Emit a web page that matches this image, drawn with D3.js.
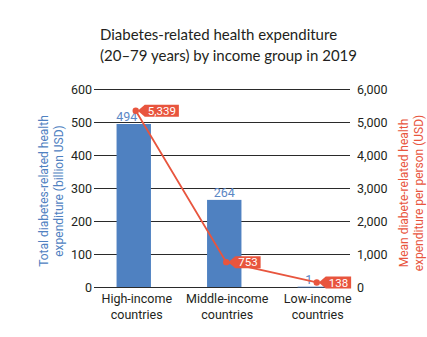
<!DOCTYPE html>
<html><head><meta charset="utf-8">
<script src="https://cdnjs.cloudflare.com/ajax/libs/d3/7.8.5/d3.min.js"></script>
<style>
body{margin:0;background:#fff;}
svg{display:block;}
</style></head>
<body><svg id="chart" width="427" height="337"></svg>
<script>
const categories = ["High-income|countries", "Middle-income|countries", "Low-income|countries"];
const totalExpenditure = [494, 264, 1];          // billion USD (bars, left axis)
const meanPerPerson = [5339, 753, 138];          // USD (line, right axis)
const leftTicks = [0, 100, 200, 300, 400, 500, 600];
const rightTicks = [0, 1000, 2000, 3000, 4000, 5000, 6000];
const titleLines = ["Diabetes-related health expenditure", "(20\u201379 years) by income group in 2019"];
const leftTitle = ["Total diabetes-related health", "expenditure (billion USD)"];
const rightTitle = ["Mean diabete-related health", "expenditure per person (USD)"];

const BLUE = "#4f81c1", BLUE_TXT = "#5b87c5", RED = "#e8553e", INK = "#231f20";
const FONT = "Roboto, 'DejaVu Sans', sans-serif";
const svg = d3.select("#chart");

const x = d3.scaleBand().domain(categories).range([88.5, 360]).paddingInner(0.62).paddingOuter(0.31);
const yL = d3.scaleLinear().domain([0, 600]).range([287, 89]);
const yR = d3.scaleLinear().domain([0, 6000]).range([287, 89]);

// title
svg.append("g").selectAll("text").data(titleLines).join("text")
  .attr("x", 100).attr("y", (d, i) => 40 + i * 21)
  .attr("font-family", "Lato, 'Open Sans', sans-serif").attr("font-size", 15)
  .attr("fill", INK).text(d => d);

// grid lines
svg.append("g").selectAll("line").data(leftTicks).join("line")
  .attr("x1", 94).attr("x2", 350)
  .attr("y1", d => yL(d) + 0.5).attr("y2", d => yL(d) + 0.5)
  .attr("stroke", "#2a2a2a").attr("stroke-width", 1);

// left axis
const axL = svg.append("g").attr("transform", "translate(93,0)")
  .call(d3.axisLeft(yL).tickValues(leftTicks).tickSize(0).tickPadding(1).tickFormat(d3.format("d")));
axL.select(".domain").remove();
axL.selectAll("text").attr("font-family", FONT).attr("font-size", 12.5).attr("fill", INK);

// right axis
const axR = svg.append("g").attr("transform", "translate(356,0)")
  .call(d3.axisRight(yR).tickValues(rightTicks).tickSize(0).tickPadding(1).tickFormat(d3.format(",")));
axR.select(".domain").remove();
axR.selectAll("text").attr("font-family", FONT).attr("font-size", 12.5).attr("fill", INK);

// bars
svg.append("g").selectAll("rect").data(totalExpenditure).join("rect")
  .attr("x", (d, i) => x(categories[i]))
  .attr("width", x.bandwidth())
  .attr("y", d => yL(d))
  .attr("height", d => Math.max(0.8, yL(0) - yL(d)))
  .attr("fill", BLUE);

// bar value labels
const labelDx = [-7, 0, -6];
svg.append("g").selectAll("text").data(totalExpenditure).join("text")
  .attr("x", (d, i) => x(categories[i]) + x.bandwidth() / 2 + labelDx[i])
  .attr("y", d => yL(d) - 3)
  .attr("text-anchor", "middle")
  .attr("font-family", FONT).attr("font-size", 12.5).attr("fill", BLUE_TXT)
  .text(d => d);

// x category labels
const xl = svg.append("g").selectAll("text").data(categories).join("text")
  .attr("text-anchor", "middle")
  .attr("font-family", FONT).attr("font-size", 12.5).attr("fill", INK);
xl.each(function(d, i) {
  const t = d3.select(this);
  d.split("|").forEach((s, j) => {
    t.append("tspan").attr("x", x(d) + x.bandwidth() / 2 + 3).attr("y", 303 + j * 16).text(s);
  });
});

// line
const pts = meanPerPerson.map((v, i) => [x(categories[i]) + x.bandwidth() / 2 + 2, yR(v)]);
svg.append("path").attr("d", d3.line()(pts))
  .attr("fill", "none").attr("stroke", RED).attr("stroke-width", 1.8);
svg.append("g").selectAll("circle").data(pts).join("circle")
  .attr("cx", d => d[0]).attr("cy", d => d[1]).attr("r", 3.2).attr("fill", RED);

// callouts
const fmt = d3.format(",");
const co = svg.append("g");
pts.forEach((p, i) => {
  const txt = fmt(meanPerPerson[i]);
  const g = co.append("g");
  const t = g.append("text").attr("font-family", FONT).attr("font-size", 11.5)
    .attr("fill", "#fff").text(txt);
  const w = t.node().getComputedTextLength() + 6;
  const bx = p[0] + 9, h = 12;
  const path = `M${p[0] + 2},${p[1]} L${bx},${p[1] - h / 2} L${bx + w},${p[1] - h / 2} L${bx + w},${p[1] + h / 2} L${bx},${p[1] + h / 2} Z`;
  g.insert("path", "text").attr("d", path).attr("fill", RED);
  t.attr("x", bx + 3).attr("y", p[1] + 4.3);
});

// axis titles
const lt = svg.append("text").attr("transform", "translate(52,191) rotate(-90)")
  .attr("text-anchor", "middle").attr("font-family", FONT).attr("font-size", 12).attr("fill", BLUE);
leftTitle.forEach((s, j) => lt.append("tspan").attr("x", 0).attr("y", j * 15 - 4).text(s));
const rt = svg.append("text").attr("transform", "translate(411,193) rotate(-90)")
  .attr("text-anchor", "middle").attr("font-family", FONT).attr("font-size", 12).attr("fill", RED);
rightTitle.forEach((s, j) => rt.append("tspan").attr("x", 0).attr("y", j * 15 - 3).text(s));
</script></body></html>
